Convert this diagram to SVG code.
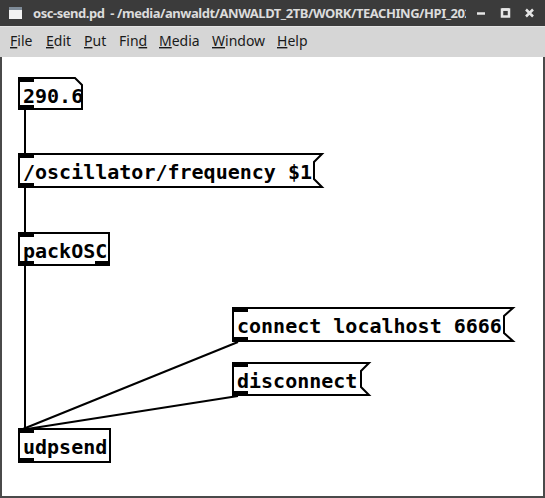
<svg xmlns="http://www.w3.org/2000/svg" width="545" height="498" viewBox="0 0 545 498">
<style>
.box{fill:#fff;stroke:#000;stroke-width:2}
.io{fill:#000}
.pd{font-family:"DejaVu Sans Mono","Liberation Mono",monospace;font-weight:bold;font-size:20px;fill:#000}
.menu{font-family:"Noto Sans","DejaVu Sans",sans-serif;font-size:14px;fill:#1a1a1a}
.cord{stroke:#000;stroke-width:2;fill:none}
.btn{stroke:#e6e6e6;stroke-width:2.5;fill:none}
</style>
<defs>
<clipPath id="titleclip"><rect x="0" y="0" width="466" height="26"/></clipPath>
</defs>
<!-- window frame -->
<rect x="0" y="0" width="545" height="498" fill="#4a4a4a"/>
<rect x="2" y="57" width="541" height="439" fill="#ffffff"/>
<!-- title bar -->
<g id="titlebar">
<rect x="0" y="0" width="545" height="26" fill="#3b3b3b"/>
<rect x="9" y="7" width="13" height="12" fill="#f2f2f2"/>
<rect x="9" y="7" width="13" height="3" fill="#7f8c99"/>
<text x="33" y="18" clip-path="url(#titleclip)" font-family="'Noto Sans','DejaVu Sans',sans-serif" font-size="13" font-weight="bold" fill="#dcdcdc" textLength="439" lengthAdjust="spacing" xml:space="preserve">osc-send.pd  - /media/anwaldt/ANWALDT_2TB/WORK/TEACHING/HPI_202</text>
<line class="btn" x1="477" y1="13.5" x2="485" y2="13.5"/>
<rect class="btn" x="502" y="9.5" width="7" height="7" stroke-width="2"/>
<line class="btn" x1="502" y1="9.5" x2="509" y2="9.5" stroke-width="3"/>
<path class="btn" d="M526,9.5 L533,16.5 M533,9.5 L526,16.5"/>
</g>
<!-- menu bar -->
<g id="menubar">
<rect x="0" y="26" width="545" height="31" fill="#d6d6d6"/>
<line x1="0" y1="26.5" x2="545" y2="26.5" stroke="#e4e4e4" stroke-width="1"/>
<text class="menu" x="10" y="46"><tspan text-decoration="underline">F</tspan>ile</text>
<text class="menu" x="46" y="46"><tspan text-decoration="underline">E</tspan>dit</text>
<text class="menu" x="84" y="46"><tspan text-decoration="underline">P</tspan>ut</text>
<text class="menu" x="119" y="46">Fin<tspan text-decoration="underline">d</tspan></text>
<text class="menu" x="159" y="46"><tspan text-decoration="underline">M</tspan>edia</text>
<text class="menu" x="212" y="46"><tspan text-decoration="underline">W</tspan>indow</text>
<text class="menu" x="277" y="46"><tspan text-decoration="underline">H</tspan>elp</text>
</g>
<!-- connections -->
<g id="connections">
<line class="cord" x1="25" y1="110" x2="25" y2="153"/>
<line class="cord" x1="25" y1="188" x2="25" y2="232"/>
<line class="cord" x1="25" y1="266" x2="25" y2="429"/>
<line class="cord" x1="238" y1="342" x2="23" y2="429"/>
<line class="cord" x1="238" y1="396" x2="27" y2="429"/>
</g>
<!-- number box -->
<g id="num">
<path class="box" d="M19,78 L75,78 L82,85 L82,109 L19,109 Z"/>
<rect class="io" x="18" y="77" width="16" height="5"/>
<rect class="io" x="18" y="105" width="16" height="5"/>
<text class="pd" x="23" y="103">290.6</text>
</g>
<!-- message /oscillator/frequency $1 -->
<g id="msg_freq">
<path class="box" d="M19,154 L322,154 L314,162 L314,179 L322,187 L19,187 Z"/>
<rect class="io" x="18" y="153" width="16" height="5"/>
<rect class="io" x="18" y="183" width="16" height="5"/>
<text class="pd" x="23" y="179">/oscillator/frequency $1</text>
</g>
<!-- packOSC -->
<g id="packOSC">
<rect class="box" x="19" y="233" width="90" height="32"/>
<rect class="io" x="18" y="232" width="16" height="5"/>
<rect class="io" x="18" y="261" width="16" height="5"/>
<rect class="io" x="95" y="261" width="15" height="5"/>
<text class="pd" x="23" y="258">packOSC</text>
</g>
<!-- connect message -->
<g id="msg_connect">
<path class="box" d="M233,308 L513,308 L504,316 L504,333 L513,341 L233,341 Z"/>
<rect class="io" x="232" y="307" width="16" height="5"/>
<rect class="io" x="232" y="337" width="16" height="5"/>
<text class="pd" x="237" y="333">connect localhost 6666</text>
</g>
<!-- disconnect message -->
<g id="msg_disconnect">
<path class="box" d="M233,363 L369,363 L361,371 L361,387 L369,395 L233,395 Z"/>
<rect class="io" x="232" y="362" width="16" height="5"/>
<rect class="io" x="232" y="391" width="16" height="5"/>
<text class="pd" x="237" y="388">disconnect</text>
</g>
<!-- udpsend -->
<g id="udpsend">
<rect class="box" x="19" y="429" width="91" height="33"/>
<rect class="io" x="18" y="428" width="16" height="5"/>
<rect class="io" x="18" y="458" width="16" height="5"/>
<text class="pd" x="23" y="454">udpsend</text>
</g>
</svg>
